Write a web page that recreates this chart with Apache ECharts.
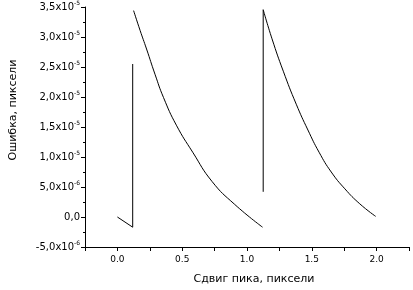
<!DOCTYPE html>
<html>
<head>
<meta charset="utf-8">
<script src="https://cdn.jsdelivr.net/npm/echarts@6/dist/echarts.min.js"></script>
<style>html,body{margin:0;padding:0;background:#fff}#c{width:413px;height:290px}</style>
</head>
<body>
<div id="c"></div>
<script>
// Segment A: small dip then vertical jump
const segAx = [0.0, 0.118, 0.118];
const segAy = [0.0, -0.17e-5, 2.55e-5];
// Segment B: decaying curve
const segBx = [0.125, 0.175, 0.225, 0.29, 0.356, 0.455, 0.581, 0.731, 0.905, 1.12];
const segBy = [3.44e-5, 3.11e-5, 2.80e-5, 2.38e-5, 1.99e-5, 1.53e-5, 1.08e-5, 0.59e-5, 0.21e-5, -0.17e-5];
// Segment C: vertical jump, then decaying curve
const segCjumpX = [1.125, 1.125];
const segCjumpY = [0.42e-5, 3.455e-5];
const segCx = [1.125, 1.193, 1.28, 1.38, 1.47, 1.556, 1.65, 1.755, 1.87, 1.993];
const segCy = [3.455e-5, 2.97e-5, 2.43e-5, 1.88e-5, 1.45e-5, 1.08e-5, 0.75e-5, 0.47e-5, 0.22e-5, 0.01e-5];

const xTickLabels = ['0.0', '0.5', '1.0', '1.5', '2.0'];
const xTickValues = [0, 0.5, 1.0, 1.5, 2.0];
const yTickValues = [-5e-6, 0, 5e-6, 1e-5, 1.5e-5, 2e-5, 2.5e-5, 3e-5, 3.5e-5];
const yTickMant = ['-5,0x10', '0,0', '5,0x10', '1,0x10', '1,5x10', '2,0x10', '2,5x10', '3,0x10', '3,5x10'];
const yTickExp = ['-6', '', '-6', '-5', '-5', '-5', '-5', '-5', '-5'];

const zip = (xs, ys) => xs.map((x, i) => [x, ys[i]]);
const FONT = '"DejaVu Sans", Verdana, sans-serif';
const lineStyle = { color: '#000', width: 1 };

const chart = echarts.init(document.getElementById('c'), null, { renderer: 'canvas' });
chart.setOption({
  animation: false,
  backgroundColor: '#fff',
  grid: { left: 76, right: 4, top: 7, bottom: 37, containLabel: false },
  xAxis: {
    type: 'value', min: -0.25, max: 2.25, interval: 0.25,
    name: 'Сдвиг пика, пиксели', nameLocation: 'middle', nameGap: 27,
    nameTextStyle: { fontFamily: FONT, fontSize: 11, color: '#000', padding: [0, 0, 0, 14] },
    axisLine: { show: true, onZero: false, lineStyle: { color: '#000', width: 1 } },
    axisTick: { show: true, inside: false, length: 4, lineStyle: { color: '#000' } },
    axisLabel: {
      fontFamily: FONT, fontSize: 9, color: '#000', margin: 8,
      showMinLabel: true, showMaxLabel: true,
      formatter: v => {
        const i = xTickValues.findIndex(t => Math.abs(t - v) < 1e-9);
        return i >= 0 ? xTickLabels[i] : '';
      }
    },
    splitLine: { show: false }
  },
  yAxis: {
    type: 'value', min: -5e-6, max: 3.5e-5, interval: 5e-6,
    name: 'Ошибка, пиксели', nameLocation: 'middle', nameGap: 66, nameRotate: 90,
    nameTextStyle: { fontFamily: FONT, fontSize: 11, color: '#000', padding: [0, 0, 0, 34] },
    axisLine: { show: true, onZero: false, lineStyle: { color: '#000', width: 1 } },
    axisTick: { show: true, inside: false, length: 4, lineStyle: { color: '#000' } },
    minorTick: { show: true, splitNumber: 2, length: 2, lineStyle: { color: '#000' } },
    axisLabel: {
      fontFamily: FONT, fontSize: 10, color: '#000', margin: 5,
      formatter: v => {
        let best = 0, bd = Infinity;
        yTickValues.forEach((t, i) => { const d = Math.abs(t - v); if (d < bd) { bd = d; best = i; } });
        return yTickExp[best] ? yTickMant[best] + '{s|' + yTickExp[best] + '}' : yTickMant[best];
      },
      rich: { s: { fontFamily: FONT, fontSize: 6, color: '#000', padding: [0, 0, 7, 0] } }
    },
    splitLine: { show: false }
  },
  series: [
    { type: 'line', data: zip(segAx, segAy), showSymbol: false, symbol: 'none', lineStyle, smooth: false },
    { type: 'line', data: zip(segBx, segBy), showSymbol: false, symbol: 'none', lineStyle, smooth: 0.5 },
    { type: 'line', data: zip(segCjumpX, segCjumpY), showSymbol: false, symbol: 'none', lineStyle, smooth: false },
    { type: 'line', data: zip(segCx, segCy), showSymbol: false, symbol: 'none', lineStyle, smooth: 0.5 }
  ]
});
</script>
</body>
</html>
